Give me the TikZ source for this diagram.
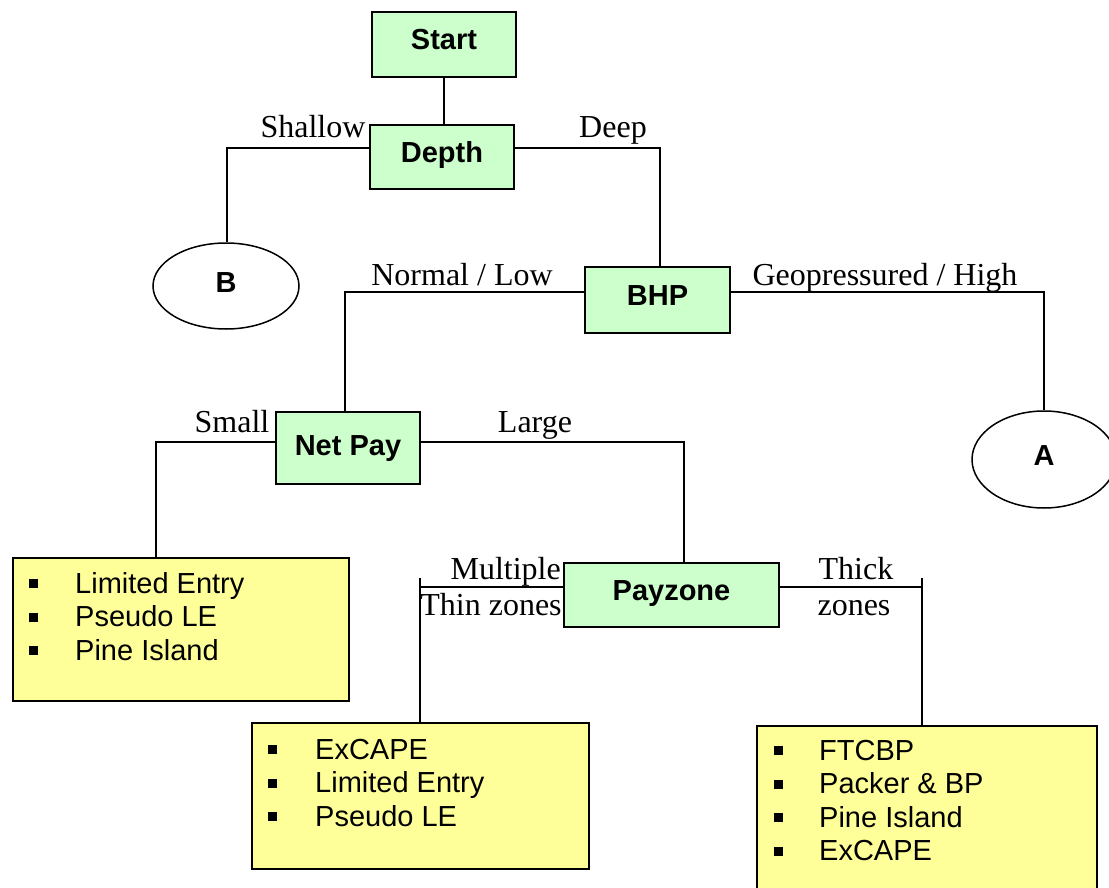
\documentclass[tikz,border=0pt]{standalone}
\usepackage{fontspec}
\setmainfont{Liberation Serif}
\newfontfamily\arialf{Liberation Sans}
\usetikzlibrary{shapes.geometric}
\definecolor{boxgreen}{HTML}{CCFFCC}
\definecolor{boxyellow}{HTML}{FFFF99}
\newcommand{\sqb}{\rule[5pt]{9pt}{9pt}}
\begin{document}
\begin{tikzpicture}[x=1pt,y=-1pt,
 decision/.style={draw, line width=1.5pt, fill=boxgreen, inner sep=0pt,
   text height=21pt, text depth=10pt,
   font=\arialf\bfseries\fontsize{29}{34}\selectfont},
 oval/.style={draw, ellipse, line width=1.5pt, fill=white, inner sep=0pt,
   text height=21pt, text depth=9pt,
   font=\arialf\bfseries\fontsize{29}{34}\selectfont},
 result/.style={draw, line width=1.5pt, fill=boxyellow, anchor=north west, inner sep=0pt},
 lbl/.style={font=\fontsize{32}{36}\selectfont, inner sep=0pt, anchor=base},
 conn/.style={line width=1.5pt},
 items/.style={anchor=base west, inner sep=0pt, font=\arialf\fontsize{29}{33.5}\selectfont}
]
\useasboundingbox (0,0) rectangle (1109,888);
\fill[white] (0,0) rectangle (1109,888);

% decision boxes
\node[decision, minimum width=144pt, minimum height=65pt] (start) at (444,44.5) {Start};
\node[decision, minimum width=144pt, minimum height=64pt] (depth) at (442,157) {Depth};
\node[decision, minimum width=145pt, minimum height=66pt] (bhp) at (657.5,300) {BHP};
\node[decision, minimum width=144pt, minimum height=72pt, text depth=7pt] (netpay) at (348,448) {Net Pay};
\node[decision, minimum width=215pt, minimum height=64pt] (payzone) at (671.5,595) {Payzone};

% connector ovals
\node[oval, minimum width=146pt, minimum height=86pt] (b) at (226,286) {B};
\node[oval, minimum width=144pt, minimum height=97pt] (a) at (1044,459.5) {A};

% result boxes
\node[result, minimum width=336pt, minimum height=143pt] (r1) at (12,557) {};
\node[result, minimum width=337pt, minimum height=146pt] (r2) at (251,722) {};
\node[result, minimum width=340pt, minimum height=175pt] (r3) at (756,725) {};

\node[items] (i1) at (29,593) {\begin{tabular}[t]{@{}l@{\hspace{37pt}}l@{}}\sqb & Limited Entry\\ \sqb & Pseudo LE\\ \sqb & Pine Island\end{tabular}};
\node[items] (i2) at (268,759) {\begin{tabular}[t]{@{}l@{\hspace{38pt}}l@{}}\sqb & ExCAPE\\ \sqb & Limited Entry\\ \sqb & Pseudo LE\end{tabular}};
\node[items] (i3) at (774,760) {\begin{tabular}[t]{@{}l@{\hspace{36pt}}l@{}}\sqb & FTCBP\\ \sqb & Packer \& BP\\ \sqb & Pine Island\\ \sqb & ExCAPE\end{tabular}};

% connectors
\draw[conn] (start.south) -- (start.south |- depth.north);
\coordinate (c1) at (227,148);
\draw[conn] (depth.west |- c1) -- (c1) -- (c1 |- b.north);
\coordinate (c2) at (660,148);
\draw[conn] (depth.east |- c2) -- (c2) -- (c2 |- bhp.north);
\coordinate (c3) at (345,292);
\draw[conn] (bhp.west |- c3) -- (c3) -- (c3 |- netpay.north);
\coordinate (c4) at (1044,292);
\draw[conn] (bhp.east |- c4) -- (c4) -- (c4 |- a.north);
\coordinate (c5) at (156,442);
\draw[conn] (netpay.west |- c5) -- (c5) -- (c5 |- r1.north);
\coordinate (c6) at (684,442);
\draw[conn] (netpay.east |- c6) -- (c6) -- (c6 |- payzone.north);
\coordinate (c7) at (420,587);
\coordinate (t7) at (420,578);
\draw[conn] (payzone.west |- c7) -- (c7);
\draw[conn] (t7) -- (t7 |- r2.north);
\coordinate (c8) at (922,587);
\coordinate (t8) at (922,578);
\draw[conn] (payzone.east |- c8) -- (c8);
\draw[conn] (t8) -- (t8 |- r3.north);

% labels
\node[lbl] (lshallow) at (313,138) {Shallow};
\node[lbl] (ldeep) at (613,138) {Deep};
\node[lbl] (lnormal) at (462,285) {Normal / Low};
\node[lbl] (lgeo) at (885,285) {Geopressured / High};
\node[lbl] (lsmall) at (232,432) {Small};
\node[lbl] (llarge) at (535,432) {Large};
\node[lbl, anchor=base east] (lmult) at (561,579) {Multiple};
\node[lbl] (lthin) at (491,615) {Thin zones};
\node[lbl] (lthick) at (856,579) {Thick};
\node[lbl] (lzones) at (854,615) {zones};
\end{tikzpicture}
\end{document}
